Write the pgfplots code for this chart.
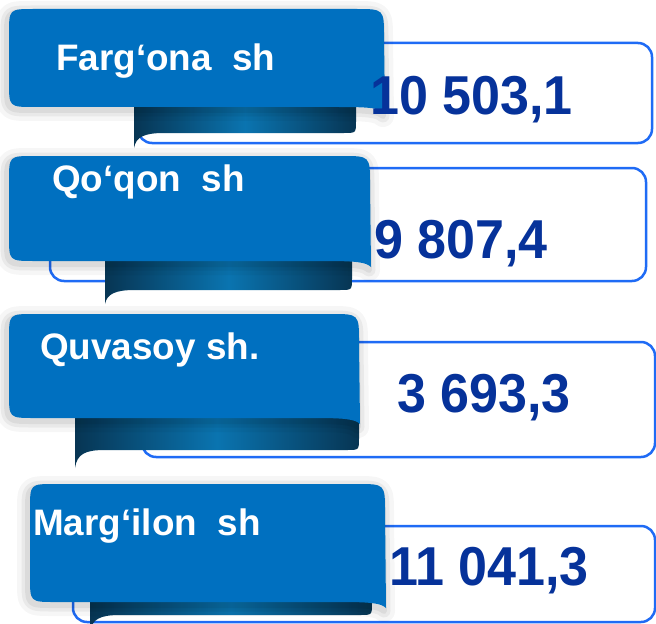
\documentclass[border=0pt]{standalone}
\usepackage{pgfplots}
\usepackage{pgfplotstable}
\pgfplotsset{compat=1.18}
\usepackage{fontspec}
\setmainfont{Liberation Sans}
\newfontfamily\numfont{Liberation Sans}[FakeStretch=0.95]
\definecolor{lab}{HTML}{0070C0}
\definecolor{boxb}{HTML}{1F6BF5}
\definecolor{num}{HTML}{06329A}
\definecolor{rdark}{HTML}{073553}
\definecolor{rmid}{HTML}{0A74B0}

\newcommand\boxshape[4]{\draw[boxb, line width=2.5bp, fill=white, rounded corners=14bp] (axis cs:#1,#2) rectangle (axis cs:#3,#4);}
\newcommand\ribbon[5]{%
 \path[left color=rdark, right color=rdark, middle color=rmid] (axis cs:#1,#3) -- (axis cs:#1,#5) .. controls (axis cs:{#1+2},{#4+4}) and (axis cs:{#1+10},#4) .. (axis cs:{#1+30},#4) -- (axis cs:{#2-12},#4) .. controls (axis cs:#2,#4) .. (axis cs:#2,{#4-12}) -- (axis cs:#2,#3) -- cycle;}
\newcommand\labpath[4]{(axis cs:#1,{#4-25}) -- (axis cs:#1,{#2+25}) .. controls (axis cs:#1,#2) .. (axis cs:{#1+25},#2) -- (axis cs:{#3-28},#2) .. controls (axis cs:#3,#2) .. (axis cs:#3,{#2+28}) -- (axis cs:{#3+1},{#4+6}) .. controls (axis cs:{#3-4},{#4+1}) and (axis cs:{#3-15},#4) .. (axis cs:{#3-45},#4) -- (axis cs:{#1+25},#4) .. controls (axis cs:#1,#4) .. (axis cs:#1,{#4-25}) -- cycle}
\newcommand\labshape[4]{%
 \draw[black, opacity=0.035, line width=22bp, line join=round, xshift=-2bp, yshift=-3bp] \labpath{#1}{#2}{#3}{#4};
 \draw[black, opacity=0.05, line width=13bp, line join=round, xshift=-2bp, yshift=-3bp] \labpath{#1}{#2}{#3}{#4};
 \draw[black, opacity=0.06, line width=6bp, line join=round, xshift=-2bp, yshift=-3bp] \labpath{#1}{#2}{#3}{#4};
 \fill[lab] \labpath{#1}{#2}{#3}{#4};}

\pgfplotstableread{
x y value
370 114 10503.1
374 258 9807.4
397 412 3693.3
389 585 11041.3
}\valtable

\begin{document}
\begin{tikzpicture}
\useasboundingbox (0,0) rectangle (656bp,624bp);
\begin{axis}[at={(0,0)}, anchor=south west, width=656bp, height=624bp, scale only axis,
  xmin=0, xmax=656, ymin=0, ymax=624, y dir=reverse, hide axis, clip=false]
% group 1
\boxshape{138}{43}{652}{143}
\ribbon{134}{356}{97}{133}{148}
\labshape{9}{9}{384}{107}
% group 2
\boxshape{50}{168}{646}{281}
\ribbon{105}{352}{251}{290}{304}
\labshape{9}{156}{370}{261}
% group 3
\boxshape{142}{342}{655}{457}
\ribbon{75}{359}{408}{450}{468}
\labshape{9}{314}{359}{418}
% group 4
\boxshape{73}{526}{655}{622}
\ribbon{90}{372}{592}{615}{632}
\labshape{30}{484}{385}{602}
% values
\addplot[draw=none, mark=none, point meta=explicit,
  nodes near coords={\pgfmathprintnumber[fixed, fixed zerofill, precision=1, use comma, 1000 sep={\ }, assume math mode=true]{\pgfplotspointmeta}},
  every node near coord/.append style={anchor=base west, inner sep=0pt, font={\fontsize{55}{55}\numfont\bfseries}, text=num}]
  table[x=x, y=y, meta=value] {\valtable};
% labels
\addplot[draw=none, mark=none, point meta=explicit symbolic, nodes near coords,
  every node near coord/.append style={anchor=base west, inner sep=0pt, font={\fontsize{37}{37}\selectfont\bfseries}, text=white}]
  coordinates {(56,71) [Farg‘ona\ \ sh] (52,191) [Qo‘qon\ \ sh] (40,359) [Quvasoy sh.] (33,535) [Marg‘ilon\ \ sh]};
\end{axis}
\end{tikzpicture}
\end{document}
